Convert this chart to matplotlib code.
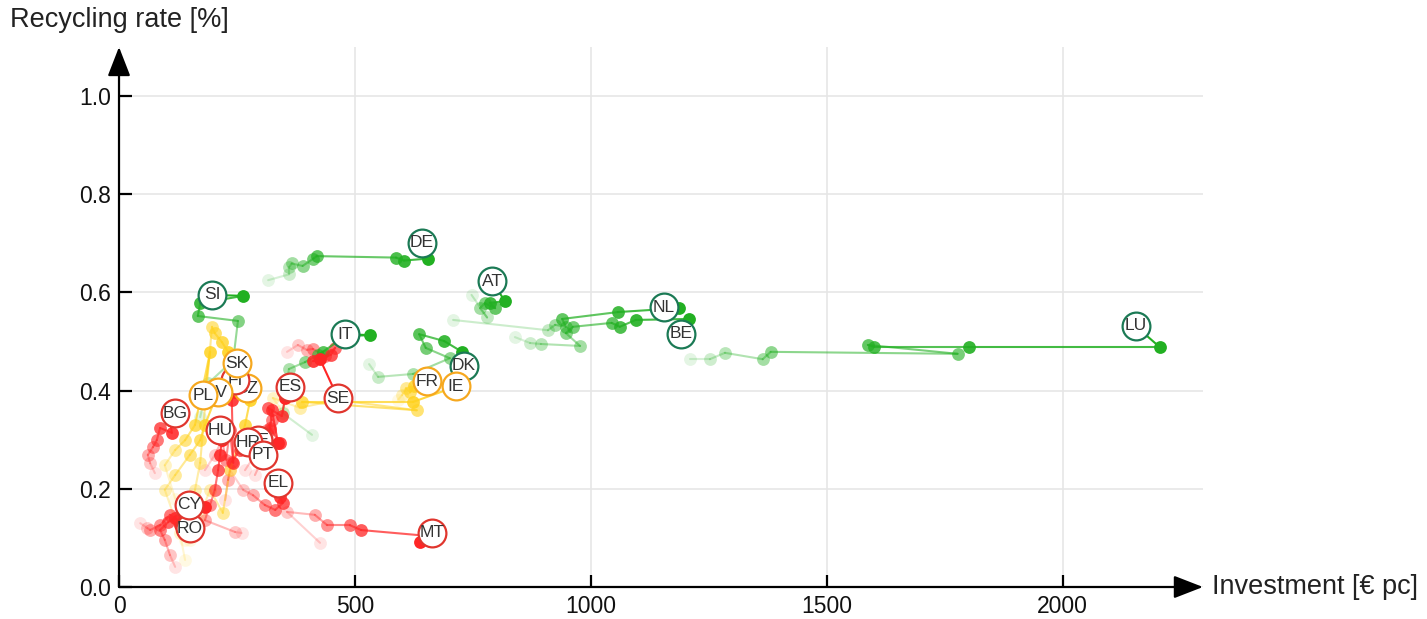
import numpy as np
import matplotlib.pyplot as plt
from matplotlib.colors import to_rgba

plt.rcParams['font.family'] = ['Liberation Sans', 'DejaVu Sans']

# investment [EUR per capita] and recycling rate per country, oldest year first
LU_inv = [1210, 1252, 1284, 1364, 1381, 1777, 1587, 1600, 1801, 2205]
LU_rate = [0.464, 0.464, 0.477, 0.464, 0.479, 0.475, 0.493, 0.489, 0.489, 0.489]
BE_inv = [839, 871, 894, 977, 947, 962, 1044, 1061, 1095, 1208]
BE_rate = [0.509, 0.497, 0.495, 0.491, 0.517, 0.530, 0.538, 0.530, 0.544, 0.546]
NL_inv = [708, 909, 924, 947, 939, 1057, 1186]
NL_rate = [0.544, 0.523, 0.534, 0.530, 0.546, 0.560, 0.568]
DE_inv = [316, 361, 361, 366, 389, 412, 419, 587, 604, 655]
DE_rate = [0.625, 0.637, 0.652, 0.659, 0.654, 0.669, 0.674, 0.671, 0.665, 0.669]
AT_inv = [747, 780, 765, 775, 797, 786, 818]
AT_rate = [0.595, 0.549, 0.568, 0.578, 0.568, 0.579, 0.582]
SI_inv = [172, 189, 242, 252, 167, 172, 263]
SI_rate = [0.346, 0.415, 0.462, 0.542, 0.552, 0.578, 0.593]
IT_inv = [409, 347, 360, 394, 422, 432, 479, 532]
IT_rate = [0.310, 0.354, 0.444, 0.458, 0.473, 0.479, 0.511, 0.513]
DK_inv = [530, 549, 623, 701, 650, 636, 689, 727]
DK_rate = [0.454, 0.428, 0.434, 0.466, 0.487, 0.515, 0.501, 0.479]

FR_inv = [591, 600, 608, 617, 625, 638]
FR_rate = [0.381, 0.391, 0.405, 0.397, 0.409, 0.415]
IE_inv = [345, 326, 383, 462, 631, 388, 623, 705]
IE_rate = [0.360, 0.385, 0.365, 0.381, 0.360, 0.377, 0.377, 0.405]
SK_inv = [140, 150, 161, 172, 197, 203, 218, 231, 248]
SK_rate = [0.096, 0.147, 0.198, 0.253, 0.530, 0.517, 0.499, 0.479, 0.466]
PL_inv = [119, 97, 119, 140, 161, 193, 182]
PL_rate = [0.180, 0.248, 0.279, 0.299, 0.330, 0.479, 0.401]
LV_inv = [140, 129, 97, 119, 150, 172, 182, 203, 214]
LV_rate = [0.055, 0.110, 0.198, 0.228, 0.269, 0.299, 0.330, 0.381, 0.405]
CZ_inv = [150, 172, 193, 220, 235, 256, 267, 278, 271]
CZ_rate = [0.096, 0.147, 0.198, 0.151, 0.238, 0.299, 0.330, 0.381, 0.401]

SE_inv = [356, 379, 398, 411, 436, 458, 449, 411, 426]
SE_rate = [0.479, 0.493, 0.483, 0.485, 0.470, 0.487, 0.473, 0.460, 0.464]
ES_inv = [303, 316, 314, 324, 316, 345, 352]
ES_rate = [0.289, 0.299, 0.320, 0.340, 0.365, 0.348, 0.385]
FI_inv = [182, 203, 218, 227, 235, 242, 239, 246]
FI_rate = [0.238, 0.269, 0.299, 0.259, 0.320, 0.253, 0.381, 0.397]
BG_inv = [76, 66, 61, 72, 80, 87, 112, 108]
BG_rate = [0.232, 0.252, 0.269, 0.285, 0.299, 0.324, 0.314, 0.340]
HU_inv = [260, 246, 182, 193, 203, 210, 214, 218]
HU_rate = [0.110, 0.112, 0.136, 0.167, 0.198, 0.238, 0.269, 0.299]
EE_inv = [288, 303, 320, 324, 337]
EE_rate = [0.228, 0.259, 0.320, 0.360, 0.293]
HR_inv = [225, 231, 239, 256, 267]
HR_rate = [0.177, 0.218, 0.255, 0.279, 0.289]
PT_inv = [267, 288, 303, 320, 341, 316]
PT_rate = [0.238, 0.269, 0.299, 0.324, 0.293, 0.275]
EL_inv = [235, 263, 284, 309, 331, 347, 341, 320]
EL_rate = [0.238, 0.198, 0.187, 0.167, 0.157, 0.171, 0.183, 0.204]
MT_inv = [426, 356, 415, 441, 489, 513, 655, 638]
MT_rate = [0.090, 0.153, 0.147, 0.126, 0.126, 0.116, 0.104, 0.092]
CY_inv = [45, 60, 66, 87, 108, 125, 140, 182]
CY_rate = [0.130, 0.120, 0.116, 0.126, 0.147, 0.136, 0.157, 0.163]
RO_inv = [119, 108, 97, 87, 104, 119, 129]
RO_rate = [0.041, 0.065, 0.096, 0.116, 0.132, 0.141, 0.126]

green_group = ['LU', 'BE', 'NL', 'DE', 'AT', 'SI', 'IT', 'DK']
yellow_group = ['FR', 'IE', 'SK', 'LV', 'PL', 'CZ']
red_group = ['SE', 'ES', 'BG', 'HU', 'EE', 'HR', 'PT', 'EL', 'MT', 'CY', 'RO', 'FI']

# label offsets from the latest point, in pixels
label_off = {
    'LU': (-24, 21), 'BE': (-8, -15), 'NL': (-15, 1), 'DE': (-6, 16),
    'AT': (-13, 20), 'SI': (-31, 1), 'IT': (-25, 1), 'DK': (2, -14),
    'FR': (7, 2), 'IE': (4, 2), 'SK': (1, -5), 'PL': (-2, -5),
    'LV': (-2, -4), 'CZ': (0, 2), 'SE': (18, -39), 'ES': (5, 11),
    'FI': (0, 12), 'BG': (5, 7), 'HU': (-2, 10), 'EE': (-20, 3),
    'HR': (3, 3), 'PT': (-5, -3), 'EL': (8, 4), 'MT': (12, 9),
    'CY': (-16, 2), 'RO': (10, -3),
}

g = globals()
series = {c: (g[c + '_inv'], g[c + '_rate']) for c in green_group + yellow_group + red_group}
col_of = {}
edge_of = {}
for c in green_group:
    col_of[c], edge_of[c] = '#22B022', '#1B7A55'
for c in yellow_group:
    col_of[c], edge_of[c] = '#FFD21F', '#F6A81F'
for c in red_group:
    col_of[c], edge_of[c] = '#FF2626', '#E0362E'

fig = plt.figure(figsize=(14.27, 6.19), dpi=100)
ax = fig.add_axes([0.0834, 0.0517, 0.7596, 0.8724])
ax.set_xlim(0, 2297)
ax.set_ylim(0, 1.1)

for c, (xs, ys) in series.items():
    n = len(xs)
    alphas = np.linspace(0.12, 1.0, n)
    col = col_of[c]
    for i in range(n - 1):
        ax.plot(xs[i:i + 2], ys[i:i + 2], color=col, alpha=alphas[i + 1] * 0.85,
                lw=1.5, zorder=2 + alphas[i + 1], solid_capstyle='round')
    for i in range(n):
        ax.scatter(xs[i], ys[i], s=85, color=to_rgba(col, alphas[i]),
                   linewidths=0, zorder=2.01 + alphas[i])

# labels drawn last so they sit on top
label_order = ['LU', 'BE', 'NL', 'DE', 'AT', 'SI', 'IT', 'DK', 'IE', 'FR', 'SE', 'ES',
               'MT', 'EL', 'RO', 'CY', 'BG', 'HU', 'EE', 'HR', 'PT', 'CZ', 'FI', 'LV', 'PL', 'SK']
z = 10
for c in label_order:
    xs, ys = series[c]
    x0, y0 = xs[-1], ys[-1]
    px, py = ax.transData.transform((x0, y0))
    dx, dy = label_off[c]
    lx, ly = ax.transData.inverted().transform((px + dx, py + dy))
    ax.plot([x0, lx], [y0, ly], color=col_of[c], lw=1.5, zorder=z)
    ax.scatter(lx, ly, s=400, facecolor='white', edgecolor=edge_of[c],
               linewidths=1.6, zorder=z + 0.1)
    ax.text(lx, ly, c, ha='center', va='center', fontsize=12.5, color='#333333',
            zorder=z + 0.2)
    z += 1

ax.set_xticks([0, 500, 1000, 1500, 2000])
ax.set_yticks([0.0, 0.2, 0.4, 0.6, 0.8, 1.0])
ax.set_yticklabels(['0.0', '0.2', '0.4', '0.6', '0.8', '1.0'])
ax.tick_params(direction='in', length=9, width=1.6, labelsize=16.5, pad=6,
               labelcolor='#111111')
ax.grid(True, color='#e6e6e6', lw=1.2)
ax.set_axisbelow(True)
for s in ax.spines.values():
    s.set_visible(False)

arrow = dict(arrowstyle='-|>,head_length=0.9,head_width=0.35', mutation_scale=20,
             color='black', lw=1.6, shrinkA=0, shrinkB=0)
ax.annotate('', xy=(1, 0), xytext=(0, 0), xycoords='axes fraction',
            arrowprops=arrow, annotation_clip=False)
ax.annotate('', xy=(0, 1), xytext=(0, 0), xycoords='axes fraction',
            arrowprops=arrow, annotation_clip=False)

fig.text(0.007, 0.968, 'Recycling rate [%]', fontsize=19.5, ha='left', va='center',
         color='#222222')
fig.text(0.8494, 0.0517, 'Investment [€ pc]', fontsize=19.5, ha='left', va='center',
         color='#222222')

fig.savefig('out.png', dpi=100)
